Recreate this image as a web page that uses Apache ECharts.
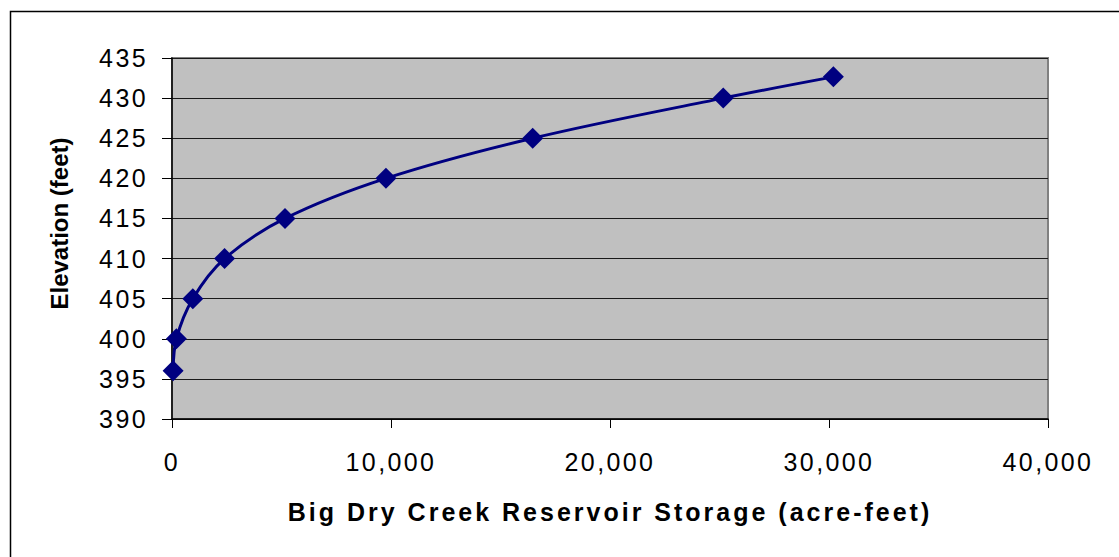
<!DOCTYPE html>
<html>
<head>
<meta charset="utf-8">
<script src="https://cdn.jsdelivr.net/npm/echarts@6/dist/echarts.min.js"></script>
<style>
  html, body { margin: 0; padding: 0; background: #fff; }
  #chart { width: 1119px; height: 557px; }
</style>
</head>
<body>
<div id="chart"></div>
<script>
// storage (acre-feet) vs elevation (feet)
var storage = [50, 200, 950, 2400, 5160, 9770, 16470, 25170, 30200];
var elevation = [396, 400, 405, 410, 415, 420, 425, 430, 432.65];

var points = [];
for (var i = 0; i < storage.length; i++) {
  points.push([storage[i], elevation[i]]);
}

var font = 'Arial, "Liberation Sans", sans-serif';
var chart = echarts.init(document.getElementById('chart'), null, { renderer: 'svg' });

chart.setOption({
  animation: false,
  backgroundColor: '#fff',
  graphic: [{
    // outer chart frame
    type: 'rect',
    left: 8, top: 9,
    shape: { width: 1200, height: 600 },
    style: { fill: 'none', stroke: '#000', lineWidth: 1.5 },
    silent: true
  }],
  grid: {
    left: 172, top: 58, right: 71, bottom: 138,
    show: true,
    backgroundColor: '#C0C0C0',
    borderColor: '#808080',
    borderWidth: 2
  },
  xAxis: {
    type: 'value',
    min: 0, max: 40000, interval: 10000,
    name: 'Big Dry Creek Reservoir Storage (acre-feet)',
    nameLocation: 'middle',
    nameGap: 80,
    nameTextStyle: { fontFamily: font, fontSize: 25, fontWeight: 'bold', color: '#000' },
    axisLine: { onZero: false, lineStyle: { color: '#000', width: 1.5 } },
    axisTick: { show: true, length: 9, lineStyle: { color: '#000' } },
    axisLabel: {
      margin: 30, fontFamily: font, fontSize: 25, color: '#000',
      formatter: function (v) { return v.toLocaleString('en-US'); }
    },
    splitLine: { show: false }
  },
  yAxis: {
    type: 'value',
    min: 390, max: 435, interval: 5,
    name: 'Elevation (feet)',
    nameLocation: 'middle',
    nameGap: 101,
    nameTextStyle: { fontFamily: font, fontSize: 24, fontWeight: 'bold', color: '#000', padding: [0, 0, 0, 30] },
    axisLine: { onZero: false, lineStyle: { color: '#000', width: 1.5 } },
    axisTick: { show: true, length: 10, lineStyle: { color: '#000' } },
    axisLabel: { margin: 24, fontFamily: font, fontSize: 25, color: '#000' },
    splitLine: { show: true, lineStyle: { color: '#1a1a1a', width: 1 } }
  },
  series: [{
    type: 'line',
    data: points,
    smooth: 0.35,
    symbol: 'diamond',
    symbolSize: 21,
    itemStyle: { color: '#000080' },
    lineStyle: { color: '#000080', width: 3 }
  }]
});

// the original text is spaced out a little wider than plain Arial
chart.getDom().querySelectorAll('text').forEach(function (t) {
  var txt = t.textContent;
  if (txt.indexOf('Elevation') >= 0) return;
  if (txt.indexOf('Big Dry') >= 0) t.style.letterSpacing = '3px';
  else t.style.letterSpacing = '2.4px';
});
</script>
</body>
</html>
